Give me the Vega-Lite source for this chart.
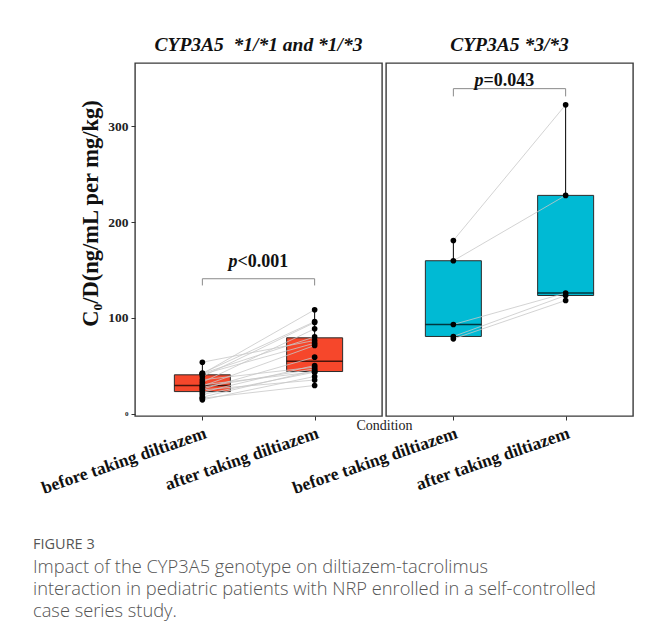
{
  "$schema": "https://vega.github.io/schema/vega-lite/v6.json",
  "background": "white",
  "padding": {"left": 33, "top": 33, "right": 5, "bottom": 5},
  "bounds": "flush",
  "config": {
    "view": {"stroke": "#3a3a3a", "strokeWidth": 1.4},
    "font": "Liberation Serif",
    "axis": {"grid": false}
  },
  "datasets": {
    "left": [
      {"id": 1, "cond": "before taking diltiazem", "val": 14.3}, {"id": 1, "cond": "after taking diltiazem", "val": 38.7},
      {"id": 2, "cond": "before taking diltiazem", "val": 16.0}, {"id": 2, "cond": "after taking diltiazem", "val": 29.3},
      {"id": 3, "cond": "before taking diltiazem", "val": 17.1}, {"id": 3, "cond": "after taking diltiazem", "val": 45.0},
      {"id": 4, "cond": "before taking diltiazem", "val": 19.9}, {"id": 4, "cond": "after taking diltiazem", "val": 43.2},
      {"id": 5, "cond": "before taking diltiazem", "val": 22.3}, {"id": 5, "cond": "after taking diltiazem", "val": 50.2},
      {"id": 6, "cond": "before taking diltiazem", "val": 24.7}, {"id": 6, "cond": "after taking diltiazem", "val": 35.0},
      {"id": 7, "cond": "before taking diltiazem", "val": 25.5}, {"id": 7, "cond": "after taking diltiazem", "val": 58.9},
      {"id": 8, "cond": "before taking diltiazem", "val": 27.5}, {"id": 8, "cond": "after taking diltiazem", "val": 46.7},
      {"id": 9, "cond": "before taking diltiazem", "val": 28.6}, {"id": 9, "cond": "after taking diltiazem", "val": 71.1},
      {"id": 10, "cond": "before taking diltiazem", "val": 30.0}, {"id": 10, "cond": "after taking diltiazem", "val": 43.5},
      {"id": 11, "cond": "before taking diltiazem", "val": 32.7}, {"id": 11, "cond": "after taking diltiazem", "val": 88.5},
      {"id": 12, "cond": "before taking diltiazem", "val": 35.2}, {"id": 12, "cond": "after taking diltiazem", "val": 48.5},
      {"id": 13, "cond": "before taking diltiazem", "val": 38.7}, {"id": 13, "cond": "after taking diltiazem", "val": 95.1},
      {"id": 14, "cond": "before taking diltiazem", "val": 41.0}, {"id": 14, "cond": "after taking diltiazem", "val": 73.5},
      {"id": 15, "cond": "before taking diltiazem", "val": 41.5}, {"id": 15, "cond": "after taking diltiazem", "val": 108.4},
      {"id": 16, "cond": "before taking diltiazem", "val": 41.8}, {"id": 16, "cond": "after taking diltiazem", "val": 80.0},
      {"id": 17, "cond": "before taking diltiazem", "val": 42.2}, {"id": 17, "cond": "after taking diltiazem", "val": 96.0},
      {"id": 18, "cond": "before taking diltiazem", "val": 53.6}, {"id": 18, "cond": "after taking diltiazem", "val": 76.3}
    ],
    "right": [
      {"id": 1, "cond": "before taking diltiazem", "val": 180.8}, {"id": 1, "cond": "after taking diltiazem", "val": 322.5},
      {"id": 2, "cond": "before taking diltiazem", "val": 159.6}, {"id": 2, "cond": "after taking diltiazem", "val": 227.9},
      {"id": 3, "cond": "before taking diltiazem", "val": 93.0}, {"id": 3, "cond": "after taking diltiazem", "val": 125.8},
      {"id": 4, "cond": "before taking diltiazem", "val": 80.5}, {"id": 4, "cond": "after taking diltiazem", "val": 123.3},
      {"id": 5, "cond": "before taking diltiazem", "val": 78.0}, {"id": 5, "cond": "after taking diltiazem", "val": 118.1}
    ],
    "bracketL": [
      {"cond": "before taking diltiazem", "val": 133.8, "ord": 1},
      {"cond": "before taking diltiazem", "val": 140.8, "ord": 2},
      {"cond": "after taking diltiazem", "val": 140.8, "ord": 3},
      {"cond": "after taking diltiazem", "val": 133.8, "ord": 4}
    ],
    "bracketR": [
      {"cond": "before taking diltiazem", "val": 331.3, "ord": 1},
      {"cond": "before taking diltiazem", "val": 339.4, "ord": 2},
      {"cond": "after taking diltiazem", "val": 339.4, "ord": 3},
      {"cond": "after taking diltiazem", "val": 331.3, "ord": 4}
    ],
    "pL": [{"val": 153.5}],
    "pR": [{"val": 341.8}]
  },
  "title": {
    "text": "FIGURE 3",
    "subtitle": [
      "Impact of the CYP3A5 genotype on diltiazem-tacrolimus",
      "interaction in pediatric patients with NRP enrolled in a self-controlled",
      "case series study."
    ],
    "orient": "bottom",
    "anchor": "start",
    "frame": "group",
    "offset": 41,
    "dx": -102,
    "font": "Open Sans",
    "fontSize": 14.5,
    "fontWeight": "normal",
    "color": "#555555",
    "subtitleFont": "Open Sans",
    "subtitleFontSize": 18.3,
    "subtitleFontWeight": 300,
    "subtitleColor": "#555555",
    "subtitleLineHeight": 22.2,
    "subtitlePadding": 6
  },
  "spacing": 4,
  "hconcat": [
    {
      "width": 247,
      "height": 353,
      "title": {"text": "CYP3A5 \u00a0*1/*1 and *1/*3", "font": "Liberation Serif", "fontSize": 19.5, "fontStyle": "italic", "fontWeight": "bold", "color": "#111111", "offset": 8},
      "encoding": {
        "y": {
          "field": "val", "type": "quantitative",
          "scale": {"domain": [-2.6, 366.2], "nice": false, "zero": false},
          "axis": {
            "title": "C₀/D(ng/mL per mg/kg)",
            "values": [0, 100, 200, 300],
            "grid": false, "domain": false,
            "tickSize": 4, "tickColor": "#333333",
            "labelFont": "Liberation Serif", "labelFontWeight": "bold",
            "labelFontSize": {"condition": {"test": "datum.value === 0", "value": 7}, "value": 13.5},
            "labelColor": "#222222", "labelPadding": 3,
            "titleFont": "Liberation Serif", "titleFontSize": 22.5, "titleFontWeight": "bold",
            "titleColor": "#111111", "titlePadding": 5, "titleY": 150
          }
        }
      },
      "layer": [
        {
          "data": {"name": "left"},
          "mark": {
            "type": "boxplot", "extent": 1.5, "size": 56, "color": "#F6472B", "outliers": false, "ticks": false,
            "box": {"stroke": "#2b2b2b", "strokeWidth": 1, "opacity": 1},
            "median": {"color": "black", "thickness": 1.5},
            "rule": {"color": "black", "strokeWidth": 1}
          },
          "encoding": {
            "x": {
              "field": "cond", "type": "nominal",
              "sort": ["before taking diltiazem", "after taking diltiazem"],
              "scale": {"type": "point", "padding": 0.6},
              "axis": {
                "title": "Condition", "titleFont": "Liberation Serif", "titleFontSize": 14, "titleFontWeight": "normal",
                "titleColor": "#222222", "titleX": 249, "titleY": 2, "titleAlign": "center", "titleBaseline": "top",
                "domain": false, "tickSize": 4, "tickColor": "#333333",
                "labelAngle": -19, "labelAlign": "right", "labelBaseline": "top",
                "labelFont": "Liberation Serif", "labelFontSize": 17.5, "labelFontWeight": "bold", "labelColor": "#111111",
                "labelPadding": 4, "labelOverlap": false, "labelBound": false, "labelLimit": 400
              }
            }
          }
        },
        {
          "data": {"name": "left"},
          "mark": {"type": "line", "color": "#c8c8c8", "strokeWidth": 0.8},
          "encoding": {
            "x": {"field": "cond", "type": "nominal", "sort": ["before taking diltiazem", "after taking diltiazem"]},
            "detail": {"field": "id", "type": "nominal"}
          }
        },
        {
          "data": {"name": "left"},
          "mark": {"type": "circle", "size": 32, "color": "black", "opacity": 1},
          "encoding": {
            "x": {"field": "cond", "type": "nominal", "sort": ["before taking diltiazem", "after taking diltiazem"]}
          }
        },
        {
          "data": {"name": "bracketL"},
          "mark": {"type": "line", "color": "#8a8a8a", "strokeWidth": 1},
          "encoding": {
            "x": {"field": "cond", "type": "nominal", "sort": ["before taking diltiazem", "after taking diltiazem"]},
            "order": {"field": "ord", "type": "quantitative"}
          }
        },
        {
          "data": {"name": "pL"},
          "mark": {"type": "text", "text": "p", "font": "Liberation Serif", "fontSize": 18, "fontStyle": "italic", "fontWeight": "bold", "align": "right", "baseline": "alphabetic", "dx": -21, "color": "#111111"}
        },
        {
          "data": {"name": "pL"},
          "mark": {"type": "text", "text": "<0.001", "font": "Liberation Serif", "fontSize": 18, "fontWeight": "bold", "align": "left", "baseline": "alphabetic", "dx": -21, "color": "#111111"}
        }
      ]
    },
    {
      "width": 247,
      "height": 353,
      "title": {"text": "CYP3A5 *3/*3", "font": "Liberation Serif", "fontSize": 19.5, "fontStyle": "italic", "fontWeight": "bold", "color": "#111111", "offset": 8},
      "encoding": {
        "y": {
          "field": "val", "type": "quantitative",
          "scale": {"domain": [-2.6, 366.2], "nice": false, "zero": false},
          "axis": null
        }
      },
      "layer": [
        {
          "data": {"name": "right"},
          "mark": {
            "type": "boxplot", "extent": 1.5, "size": 56, "color": "#00BAD4", "outliers": false, "ticks": false,
            "box": {"stroke": "#2b2b2b", "strokeWidth": 1, "opacity": 1},
            "median": {"color": "black", "thickness": 1.5},
            "rule": {"color": "black", "strokeWidth": 1}
          },
          "encoding": {
            "x": {
              "field": "cond", "type": "nominal",
              "sort": ["before taking diltiazem", "after taking diltiazem"],
              "scale": {"type": "point", "padding": 0.6},
              "axis": {
                "title": null,
                "domain": false, "tickSize": 4, "tickColor": "#333333",
                "labelAngle": -19, "labelAlign": "right", "labelBaseline": "top",
                "labelFont": "Liberation Serif", "labelFontSize": 17.5, "labelFontWeight": "bold", "labelColor": "#111111",
                "labelPadding": 4, "labelOverlap": false, "labelBound": false, "labelLimit": 400
              }
            }
          }
        },
        {
          "data": {"name": "right"},
          "mark": {"type": "line", "color": "#c8c8c8", "strokeWidth": 0.8},
          "encoding": {
            "x": {"field": "cond", "type": "nominal", "sort": ["before taking diltiazem", "after taking diltiazem"]},
            "detail": {"field": "id", "type": "nominal"}
          }
        },
        {
          "data": {"name": "right"},
          "mark": {"type": "circle", "size": 32, "color": "black", "opacity": 1},
          "encoding": {
            "x": {"field": "cond", "type": "nominal", "sort": ["before taking diltiazem", "after taking diltiazem"]}
          }
        },
        {
          "data": {"name": "bracketR"},
          "mark": {"type": "line", "color": "#8a8a8a", "strokeWidth": 1},
          "encoding": {
            "x": {"field": "cond", "type": "nominal", "sort": ["before taking diltiazem", "after taking diltiazem"]},
            "order": {"field": "ord", "type": "quantitative"}
          }
        },
        {
          "data": {"name": "pR"},
          "mark": {"type": "text", "text": "p", "font": "Liberation Serif", "fontSize": 18, "fontStyle": "italic", "fontWeight": "bold", "align": "right", "baseline": "alphabetic", "dx": -26, "color": "#111111"}
        },
        {
          "data": {"name": "pR"},
          "mark": {"type": "text", "text": "=0.043", "font": "Liberation Serif", "fontSize": 18, "fontWeight": "bold", "align": "left", "baseline": "alphabetic", "dx": -26, "color": "#111111"}
        }
      ]
    }
  ]
}
